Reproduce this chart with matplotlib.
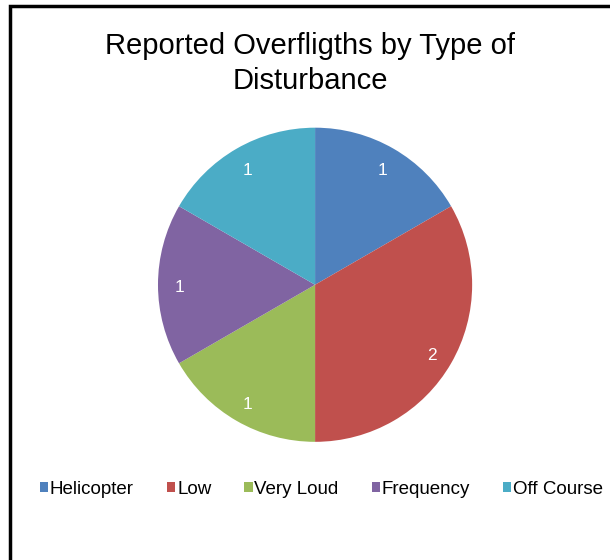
import numpy as np
import matplotlib.pyplot as plt
from matplotlib.patches import Rectangle

plt.rcParams['font.family'] = ['Liberation Sans', 'DejaVu Sans']

categories = ['Helicopter', 'Low', 'Very Loud', 'Frequency', 'Off Course']
counts = [1, 2, 1, 1, 1]
colors = ['#4F81BD', '#C0504D', '#9BBB59', '#8064A2', '#4BACC6']

fig = plt.figure(figsize=(6.1, 5.6), dpi=100)

# frame around the chart area (only top and left visible in the crop)
fig.patches.append(Rectangle((10 / 610, -0.1), 1.2, 1 - 6 / 560 + 0.1,
                             transform=fig.transFigure, fill=False,
                             edgecolor='black', linewidth=2.5))

fig.text(0.508, 1 - 46 / 560, 'Reported Overfligths by Type of',
         ha='center', va='center', fontsize=21)
fig.text(0.508, 1 - 81 / 560, 'Disturbance',
         ha='center', va='center', fontsize=21)

ax = fig.add_axes([0.259, 0.211, 0.515, 0.561])
wedges, texts = ax.pie(counts, colors=colors, startangle=90, counterclock=False,
                       wedgeprops=dict(linewidth=0))
total = sum(counts)
ang = 90.0
for w, c in zip(wedges, counts):
    span = 360.0 * c / total
    mid = np.deg2rad(ang - span / 2)
    ax.text(0.86 * np.cos(mid), 0.86 * np.sin(mid) - 0.02, str(c), color='white',
            ha='center', va='center', fontsize=12.5)
    ang -= span
ax.set_xlim(-1, 1)
ax.set_ylim(-1, 1)
ax.set_aspect('equal')

fig.legend(wedges, categories, loc='center', bbox_to_anchor=(0.527, 1 - 489 / 560),
           ncol=5, frameon=False, fontsize=13.5, handlelength=0.45, handleheight=0.45,
           handletextpad=0.1, columnspacing=1.75)

fig.savefig('out.png', dpi=100)
